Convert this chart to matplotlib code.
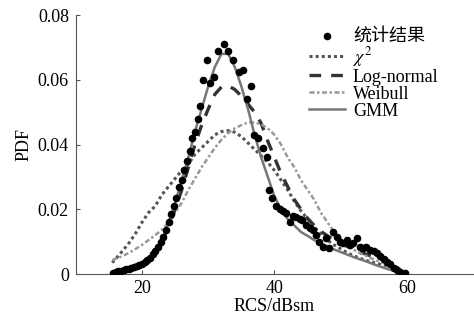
import matplotlib.pyplot as plt
import numpy as np

# 统计数据点 (RCS/dBsm, PDF)
data_x = [15.6, 16.0, 16.4, 16.8, 17.2, 17.6, 18.0, 18.4, 18.8, 19.2, 19.6, 20.0,
          20.4, 20.8, 21.2, 21.6, 22.0, 22.4, 22.8, 23.2, 23.6, 24.0, 24.4, 24.8,
          25.2, 25.6, 26.0, 26.4, 26.8, 27.2, 27.6, 28.0, 28.4, 28.8, 29.2, 29.8,
          30.3, 30.9, 31.4, 32.4, 33.0, 33.8, 34.6, 35.2, 35.8, 36.4, 36.9, 37.5,
          38.2, 38.8, 39.2, 39.7, 40.3, 40.8, 41.3, 41.8, 42.3, 42.8, 43.3, 43.8,
          44.2, 44.7, 45.3, 45.8, 46.3, 46.8, 47.3, 47.8, 48.3, 48.8, 49.4, 49.9,
          50.4, 50.9, 51.4, 51.9, 52.4, 52.9, 53.4, 53.9, 54.5, 55.0, 55.5, 56.0,
          56.5, 57.0, 57.5, 58.0, 58.5, 59.0, 59.7]
data_y = [0.0003, 0.0005, 0.0008, 0.0010, 0.0012, 0.0014, 0.0016, 0.0020, 0.0022,
          0.0025, 0.0028, 0.0032, 0.0036, 0.0042, 0.0048, 0.0062, 0.0072, 0.0085,
          0.0100, 0.0115, 0.0136, 0.0160, 0.0185, 0.0210, 0.0235, 0.0270, 0.0290,
          0.0320, 0.0350, 0.0380, 0.0420, 0.0440, 0.0480, 0.0520, 0.0600, 0.0660,
          0.0590, 0.0610, 0.0690, 0.0710, 0.0690, 0.0660, 0.0625, 0.0630, 0.0540,
          0.0580, 0.0430, 0.0420, 0.0390, 0.0360, 0.0260, 0.0235, 0.0210, 0.0200,
          0.0195, 0.0190, 0.0160, 0.0180, 0.0176, 0.0170, 0.0167, 0.0150, 0.0142,
          0.0136, 0.0120, 0.0099, 0.0083, 0.0110, 0.0080, 0.0130, 0.0115, 0.0100,
          0.0095, 0.0105, 0.0090, 0.0095, 0.0110, 0.0085, 0.0080, 0.0083, 0.0075,
          0.0070, 0.0065, 0.0055, 0.0045, 0.0037, 0.0030, 0.0020, 0.0012, 0.0006,
          0.0002]

# 拟合曲线, 每 1 dB 取一个点
fit_x = [15.5, 17, 18, 19, 20, 21, 22, 23, 24, 25, 26, 27, 28, 29, 30, 31, 32, 33,
         34, 35, 36, 37, 38, 39, 40, 41, 42, 43, 44, 45, 46, 47, 48, 49, 50, 51, 52,
         53, 54, 55, 56, 57, 58, 59]
chi2_y = [0.0035, 0.0070, 0.0095, 0.0125, 0.0160, 0.0190, 0.0210, 0.0245, 0.0270,
          0.0295, 0.0320, 0.0340, 0.0370, 0.0390, 0.0410, 0.0430, 0.0440, 0.0443,
          0.0438, 0.0425, 0.0405, 0.0385, 0.0365, 0.0345, 0.0320, 0.0290, 0.0260,
          0.0225, 0.0195, 0.0170, 0.0145, 0.0125, 0.0105, 0.0090, 0.0078, 0.0066,
          0.0056, 0.0048, 0.0041, 0.0035, 0.0030, 0.0026, 0.0022, 0.0019]
lognorm_y = [0.0003, 0.0008, 0.0013, 0.0020, 0.0030, 0.0045, 0.0068, 0.0100, 0.0145,
             0.0200, 0.0260, 0.0330, 0.0400, 0.0460, 0.0510, 0.0555, 0.0578, 0.0582,
             0.0570, 0.0550, 0.0525, 0.0500, 0.0465, 0.0410, 0.0360, 0.0310, 0.0270,
             0.0230, 0.0200, 0.0172, 0.0150, 0.0132, 0.0118, 0.0106, 0.0095, 0.0085,
             0.0076, 0.0068, 0.0060, 0.0053, 0.0046, 0.0039, 0.0032, 0.0026]
weibull_y = [0.0043, 0.0055, 0.0065, 0.0077, 0.0090, 0.0105, 0.0120, 0.0137, 0.0160,
             0.0190, 0.0220, 0.0260, 0.0295, 0.0330, 0.0360, 0.0390, 0.0415, 0.0435,
             0.0450, 0.0460, 0.0468, 0.0468, 0.0462, 0.0450, 0.0430, 0.0400, 0.0360,
             0.0330, 0.0290, 0.0260, 0.0230, 0.0190, 0.0160, 0.0130, 0.0110, 0.0090,
             0.0075, 0.0063, 0.0055, 0.0045, 0.0037, 0.0030, 0.0023, 0.0018]
gmm_y = [0.0003, 0.0010, 0.0016, 0.0024, 0.0034, 0.0047, 0.0070, 0.0100, 0.0160,
         0.0220, 0.0290, 0.0360, 0.0440, 0.0510, 0.0580, 0.0640, 0.0680, 0.0680,
         0.0640, 0.0580, 0.0510, 0.0430, 0.0360, 0.0300, 0.0240, 0.0200, 0.0170,
         0.0150, 0.0130, 0.0118, 0.0105, 0.0095, 0.0085, 0.0076, 0.0068, 0.0060,
         0.0052, 0.0045, 0.0038, 0.0030, 0.0023, 0.0016, 0.0010, 0.0005]

# 字体: 西文用衬线体, 中文退回到 Noto Sans CJK
plt.rcParams['font.family'] = ['Liberation Serif', 'Noto Sans CJK SC']
plt.rcParams['mathtext.fontset'] = 'stix'
plt.rcParams['font.size'] = 13

fig = plt.figure(figsize=(4.74, 3.27), dpi=100)
ax = fig.add_axes([0.160, 0.162, 0.838, 0.792])

ax.plot(fit_x, chi2_y, color='#555555', lw=2.2, linestyle=(0, (1, 1)), label=r'$\chi^2$')
ax.plot(fit_x, lognorm_y, color='#333333', lw=2.4, linestyle=(0, (3.5, 3)), label='Log-normal')
ax.plot(fit_x, weibull_y, color='#999999', lw=1.8, linestyle=(0, (2, 1, 1, 1)), label='Weibull')
ax.plot(fit_x, gmm_y, color='#777777', lw=1.8, label='GMM')
ax.scatter(data_x, data_y, color='black', s=20, zorder=5, label='统计结果')

ax.set_xlim(10, 70)
ax.set_ylim(0, 0.08)
ax.set_xticks([20, 40, 60])
ax.set_yticks([0, 0.02, 0.04, 0.06, 0.08])
ax.set_yticklabels(['0', '0.02', '0.04', '0.06', '0.08'])

for side in ['top', 'right']:
    ax.spines[side].set_visible(False)
for side in ['left', 'bottom']:
    ax.spines[side].set_color('#555555')
    ax.spines[side].set_linewidth(0.8)
ax.tick_params(direction='in', length=3, color='#555555', pad=4)
ax.tick_params(axis='y', pad=5)

ax.set_xlabel('RCS/dBsm', labelpad=1)
ax.set_ylabel('PDF', labelpad=4)

handles, labels = ax.get_legend_handles_labels()
order = [4, 0, 1, 2, 3]
ax.legend([handles[i] for i in order], [labels[i] for i in order],
          loc='upper right', bbox_to_anchor=(0.945, 1.0), frameon=False,
          handlelength=2.0, handletextpad=0.45, labelspacing=0.0, borderpad=0.2)

fig.savefig('out.png', dpi=100)
